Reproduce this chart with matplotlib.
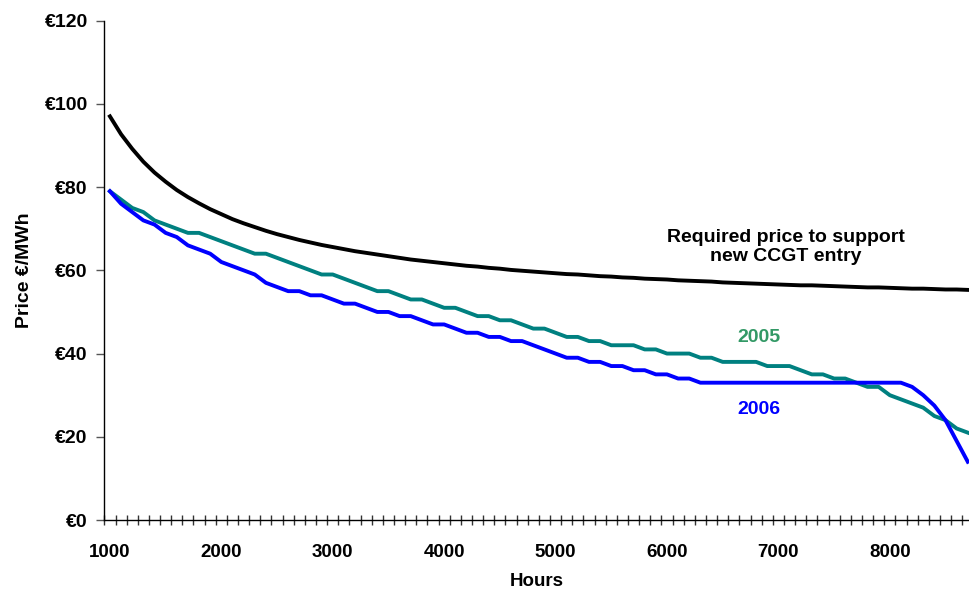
import matplotlib
matplotlib.use("Agg")
import matplotlib.pyplot as plt
from matplotlib.ticker import FixedLocator, MultipleLocator

plt.rcParams['font.family'] = ['Liberation Sans', 'DejaVu Sans']
plt.rcParams['font.weight'] = 'bold'

# hours of the year (one category every 100 h)
hours = list(range(1000, 8800, 100))

# required price to support new CCGT entry (EUR/MWh)
required_price = [
    97.0, 92.7, 89.2, 86.1, 83.5, 81.3, 79.3, 77.6, 76.1, 74.7,
    73.5, 72.3, 71.3, 70.4, 69.5, 68.7, 68.0, 67.3, 66.7, 66.1,
    65.6, 65.1, 64.6, 64.2, 63.8, 63.4, 63.0, 62.6, 62.3, 62.0,
    61.7, 61.4, 61.1, 60.9, 60.6, 60.4, 60.1, 59.9, 59.7, 59.5,
    59.3, 59.1, 59.0, 58.8, 58.6, 58.5, 58.3, 58.2, 58.0, 57.9,
    57.8, 57.6, 57.5, 57.4, 57.3, 57.1, 57.0, 56.9, 56.8, 56.7,
    56.6, 56.5, 56.4, 56.4, 56.3, 56.2, 56.1, 56.0, 55.9, 55.9,
    55.8, 55.7, 55.6, 55.6, 55.5, 55.4, 55.4, 55.3,
]

price_2005 = [
    79, 77, 75, 74, 72, 71, 70, 69, 69, 68,
    67, 66, 65, 64, 64, 63, 62, 61, 60, 59,
    59, 58, 57, 56, 55, 55, 54, 53, 53, 52,
    51, 51, 50, 49, 49, 48, 48, 47, 46, 46,
    45, 44, 44, 43, 43, 42, 42, 42, 41, 41,
    40, 40, 40, 39, 39, 38, 38, 38, 38, 37,
    37, 37, 36, 35, 35, 34, 34, 33, 32, 32,
    30, 29, 28, 27, 25, 24, 22, 21,
]

price_2006 = [
    79, 76, 74, 72, 71, 69, 68, 66, 65, 64,
    62, 61, 60, 59, 57, 56, 55, 55, 54, 54,
    53, 52, 52, 51, 50, 50, 49, 49, 48, 47,
    47, 46, 45, 45, 44, 44, 43, 43, 42, 41,
    40, 39, 39, 38, 38, 37, 37, 36, 36, 35,
    35, 34, 34, 33, 33, 33, 33, 33, 33, 33,
    33, 33, 33, 33, 33, 33, 33, 33, 33, 33,
    33, 33, 32, 30, 27.5, 24, 19, 14,
]

y_ticks = [0, 20, 40, 60, 80, 100, 120]
x_labels = [1000, 2000, 3000, 4000, 5000, 6000, 7000, 8000]

fig = plt.figure(figsize=(9.69, 5.90), dpi=100)
ax = fig.add_axes([0.1077, 0.1186, 0.8923, 0.8464])

ax.plot(hours, required_price, color='black', lw=2.8, solid_joinstyle='round')
ax.plot(hours, price_2005, color='#008080', lw=2.8, solid_joinstyle='round')
ax.plot(hours, price_2006, color='#0000FF', lw=2.8, solid_joinstyle='round')

ax.set_xlim(950, 8711)
ax.set_ylim(0, 120)

for side in ('top', 'right'):
    ax.spines[side].set_visible(False)
for side in ('left', 'bottom'):
    ax.spines[side].set_linewidth(1.0)
    ax.spines[side].set_color('black')

ax.set_yticks(y_ticks)
ax.set_yticklabels([f'€{v}' for v in y_ticks])
ax.tick_params(axis='y', direction='out', length=6, width=1, color='#555555',
               labelsize=14, pad=6)

# labels sit in the category centres, tick marks between categories
ax.xaxis.set_major_locator(FixedLocator(x_labels))
ax.set_xticklabels([str(v) for v in x_labels])
ax.xaxis.set_minor_locator(MultipleLocator(100, offset=50))
ax.tick_params(axis='x', which='major', length=0, labelsize=13.5, pad=17)
ax.tick_params(axis='x', which='minor', direction='inout', length=6.5, width=1,
               color='#333333')

ax.set_xlabel('Hours', fontsize=13.5, fontweight='bold', labelpad=9)
ax.set_ylabel('Price €/MWh', fontsize=14, fontweight='bold', labelpad=8)

ax.text(7068, 65.6, 'Required price to support\nnew CCGT entry', ha='center',
        va='center', fontsize=14, fontweight='bold', linespacing=1.2)
ax.text(6826, 43.8, '2005', ha='center', va='center', fontsize=14,
        fontweight='bold', color='#339966')
ax.text(6826, 26.5, '2006', ha='center', va='center', fontsize=14,
        fontweight='bold', color='#0000FF')

fig.savefig('out.png', dpi=100)
